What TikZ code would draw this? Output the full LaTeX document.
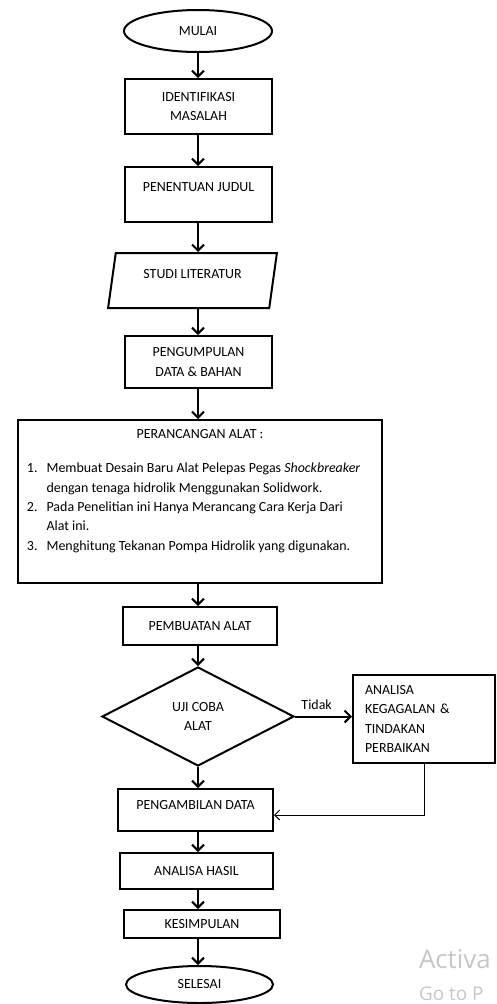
\documentclass[tikz,border=0pt]{standalone}
\usepackage{fontspec}
\setmainfont{Carlito}
\newfontfamily\wmfont{Open Sans}
\usetikzlibrary{arrows.meta,shapes.geometric,positioning}

\begin{document}
\begin{tikzpicture}[x=1bp, y=-1bp, line width=2bp,
  every node/.style={font=\fontsize{14}{19.5}\selectfont, text=black},
  terminal/.style={ellipse, draw, inner sep=0pt},
  proses/.style={rectangle, draw, inner sep=0pt, align=center},
  flow/.style={-{Straight Barb[length=6bp,width=12bp]}},
  back/.style={line width=1bp, -{Straight Barb[length=5bp,width=10bp]}}]
\path[use as bounding box] (0,0) rectangle (497,1004);
\node[terminal, minimum width=148bp, minimum height=42bp] (mulai) at (198,31) {MULAI};
\node[proses, minimum width=147bp, minimum height=55bp] (idn) at (198.5,106.5) {IDENTIFIKASI\\MASALAH};
\node[proses, minimum width=147bp, minimum height=55bp, text depth=15bp] (judul) at (198.5,194.5) {PENENTUAN JUDUL};
\node[trapezium, draw, inner sep=0pt, trapezium left angle=78, trapezium right angle=102, trapezium stretches=true, minimum width=169bp, minimum height=55bp, text depth=14bp] (literatur) at (192.5,280.5) {STUDI LITERATUR};
\node[proses, minimum width=147bp, minimum height=52bp] (kumpul) at (198.5,362) {PENGUMPULAN\\DATA \& BAHAN};
\node[proses, minimum width=364bp, minimum height=163bp] (desain) at (200,501.5) {};
\node[inner sep=0pt, below=9bp of desain.north] (desainjudul) {PERANCANGAN ALAT :};
\node[inner sep=0pt, below right=39bp and 9bp of desain.north west] (daftar) {\begin{tabular}{@{}l@{\hspace{9bp}}l@{}}
1. & Membuat Desain Baru Alat Pelepas Pegas \textit{Shockbreaker}\\
   & dengan tenaga hidrolik Menggunakan Solidwork.\\
2. & Pada Penelitian ini Hanya Merancang Cara Kerja Dari\\
   & Alat ini.\\
3. & Menghitung Tekanan Pompa Hidrolik yang digunakan.
\end{tabular}};
\node[proses, minimum width=154bp, minimum height=38bp] (buat) at (200,626) {PEMBUATAN ALAT};
\node[diamond, draw, aspect=2, inner sep=0pt, align=center, minimum width=192bp, minimum height=99bp] (uji) at (198,716.5) {UJI COBA\\ALAT};
\node[proses, align=left, text width=118bp, minimum width=142bp, minimum height=88bp] (gagal) at (424,719) {ANALISA\\KEGAGALAN \&\\TINDAKAN\\PERBAIKAN};
\node[proses, minimum width=155bp, minimum height=42bp, text depth=10bp] (ambil) at (195.5,810) {PENGAMBILAN DATA};
\node[proses, minimum width=153bp, minimum height=36bp] (hasil) at (196.5,871) {ANALISA HASIL};
\node[proses, minimum width=156bp, minimum height=28bp] (simpul) at (202,924) {KESIMPULAN};
\node[terminal, minimum width=147bp, minimum height=37bp] (selesai) at (199.5,984.5) {SELESAI};
% alur utama
\foreach \a/\b in {mulai/idn, idn/judul, judul/literatur, literatur/kumpul, kumpul/desain, desain/buat, buat/uji, uji/ambil, ambil/hasil, hasil/simpul, simpul/selesai}
  \draw[flow] (mulai |- \a.south) -- (mulai |- \b.north);
\draw[flow] (uji.east) -- (uji.east -| gagal.west) node[pos=0.38, above=6bp, inner sep=0pt] {Tidak};
\draw[back] (gagal.south) |- ([yshift=-5bp]ambil.east);
% watermark
\node[anchor=base west, inner sep=0pt, text=black!22, font=\wmfont\fontsize{26}{30}\selectfont] (aktivasi) at (418,968) {Activa};
\node[anchor=base west, inner sep=0pt, text=black!22, font=\wmfont\fontsize{19}{22}\selectfont] (setelan) at (418,1000) {Go to P};
\end{tikzpicture}
\end{document}
